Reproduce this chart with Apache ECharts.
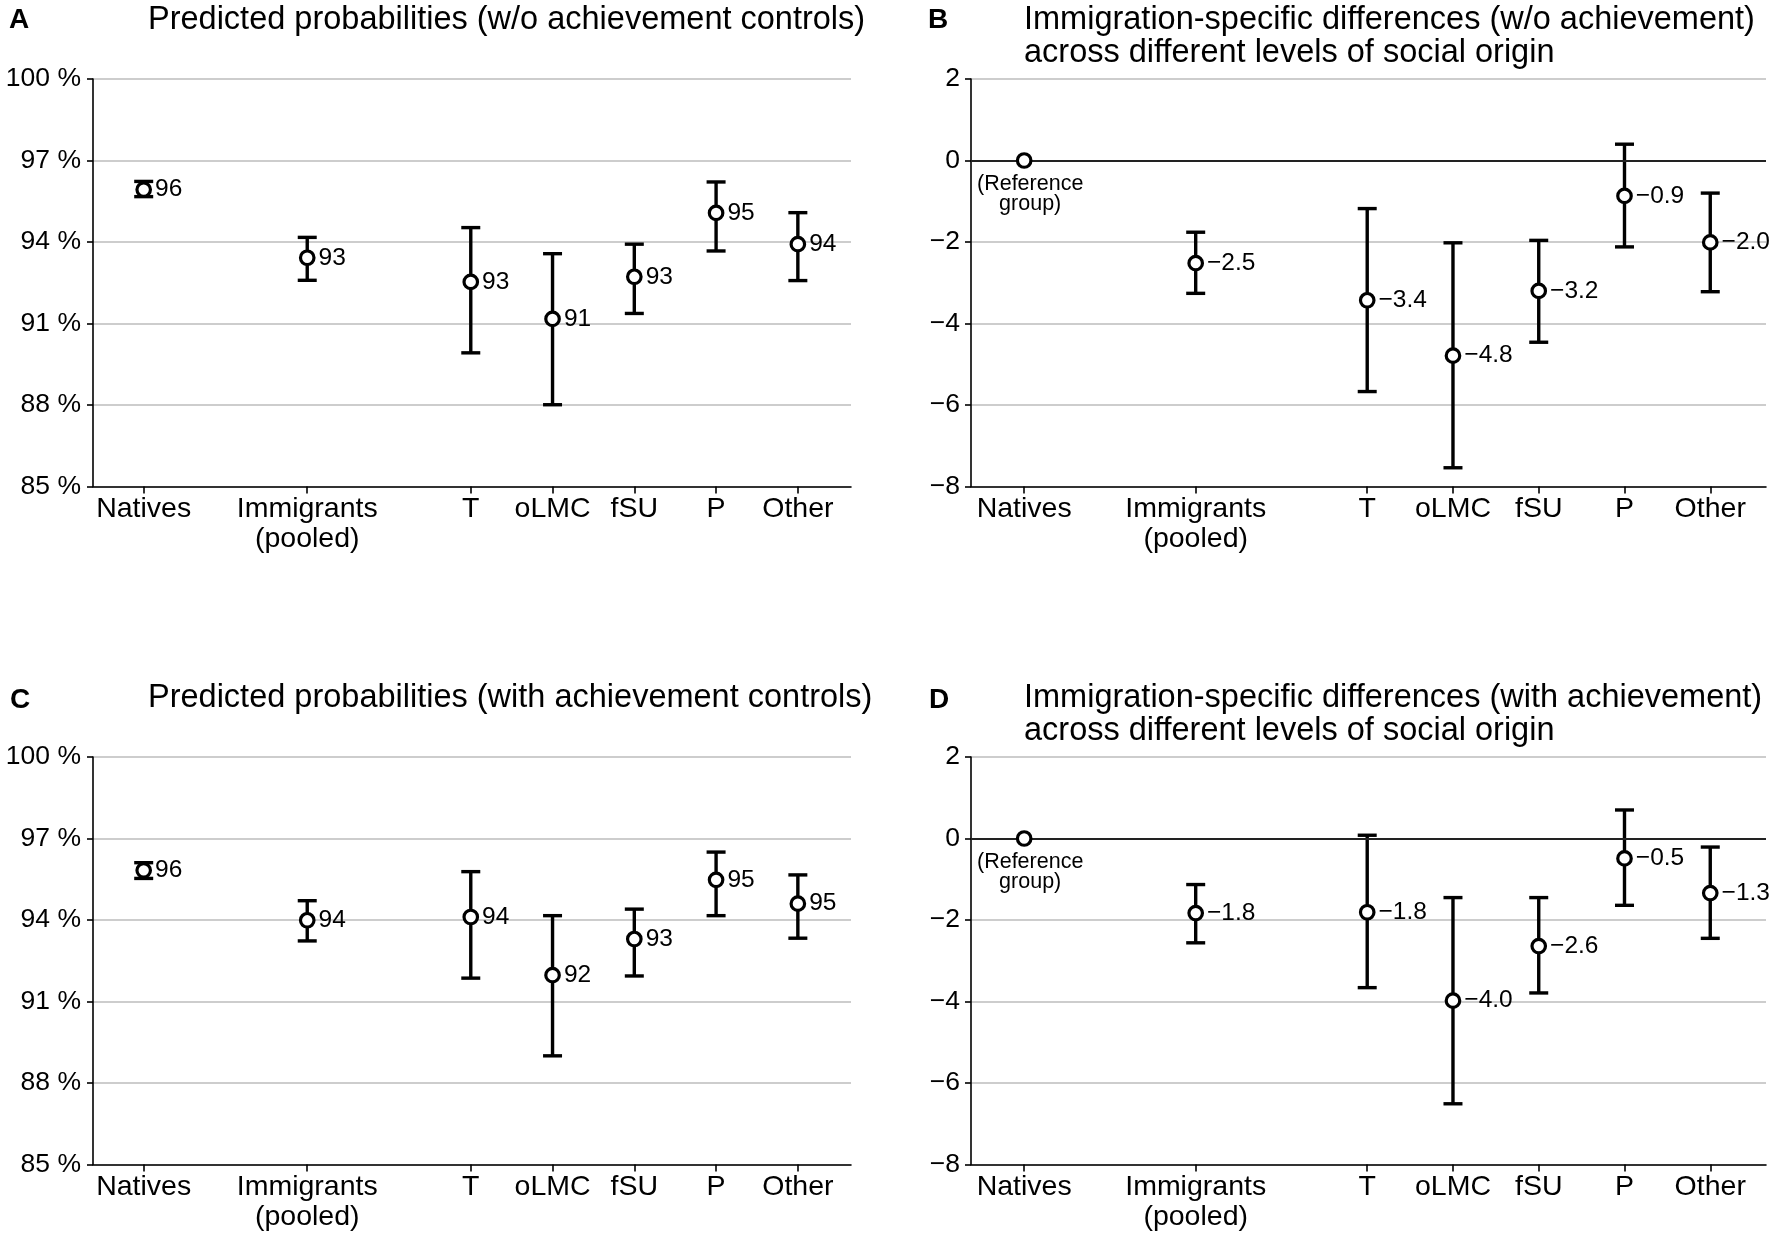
<!DOCTYPE html>
<html><head><meta charset="utf-8">
<script src="https://cdn.jsdelivr.net/npm/echarts@6/dist/echarts.min.js"></script>
<style>html,body{margin:0;padding:0;background:#fff}#c{width:1772px;height:1240px}</style>
</head><body><div id="c"></div>
<script>
// ---- data ----
const categories = ['Natives', 'Immigrants\n(pooled)', 'T', 'oLMC', 'fSU', 'P', 'Other'];
const catPositions = [0, 2, 4, 5, 6, 7, 8];

const aEst  = [95.93, 93.42, 92.53, 91.17, 92.72, 95.07, 93.92];
const aLow  = [95.67, 92.59, 89.92, 88.01, 91.37, 93.67, 92.58];
const aHigh = [96.23, 94.17, 94.53, 93.57, 93.92, 96.21, 95.08];

const bEst  = [0, -2.52, -3.43, -4.79, -3.20, -0.87, -2.01];
const bLow  = [null, -3.26, -5.67, -7.54, -4.46, -2.12, -3.22];
const bHigh = [null, -1.76, -1.18, -2.02, -1.96, 0.40, -0.80];

const cEst  = [95.83, 93.99, 94.11, 91.97, 93.30, 95.48, 94.60];
const cLow  = [95.53, 93.23, 91.86, 89.00, 91.94, 94.16, 93.33];
const cHigh = [96.11, 94.71, 95.78, 94.16, 94.40, 96.50, 95.66];

const dEst  = [0, -1.83, -1.81, -3.98, -2.64, -0.49, -1.34];
const dLow  = [null, -2.56, -3.66, -6.51, -3.79, -1.64, -2.45];
const dHigh = [null, -1.13, 0.08, -1.45, -1.45, 0.70, -0.21];

const titles = [
  ['Predicted probabilities (w/o achievement controls)'],
  ['Immigration-specific differences (w/o achievement)', 'across different levels of social origin'],
  ['Predicted probabilities (with achievement controls)'],
  ['Immigration-specific differences (with achievement)', 'across different levels of social origin']
];
const letters = ['A', 'B', 'C', 'D'];

// ---- chart ----
const FONT = 'Liberation Sans, Arial, Helvetica, sans-serif';
const chart = echarts.init(document.getElementById('c'), null, {renderer: 'canvas'});

const grids = [
  {left: 93, top: 79, width: 758, height: 407.5},
  {left: 971, top: 79, width: 795, height: 407.5},
  {left: 93, top: 757, width: 758, height: 407.5},
  {left: 971, top: 757, width: 795, height: 407.5}
];

const blackLine = {color: '#000', width: 1.6};
function xAxisFor(gi) {
  return {
    type: 'value', gridIndex: gi, min: -0.62, max: 8.65,
    splitLine: {show: false},
    axisLine: {show: true, onZero: false, lineStyle: blackLine},
    axisTick: {show: true, customValues: catPositions, length: 7, lineStyle: blackLine},
    axisLabel: {
      customValues: catPositions,
      formatter: v => { const i = catPositions.indexOf(v); return i >= 0 ? categories[i] : ''; },
      fontSize: 28.5, fontFamily: FONT, color: '#000', margin: 8, lineHeight: 30
    }
  };
}
function yAxisFor(gi, isProb) {
  return {
    type: 'value', gridIndex: gi,
    min: isProb ? 85 : -8, max: isProb ? 100 : 2, interval: isProb ? 3 : 2,
    axisLine: {show: true, onZero: false, lineStyle: blackLine},
    axisTick: {show: true, length: 6, lineStyle: blackLine},
    splitLine: {show: true, lineStyle: {color: '#bdbdbd', width: 1.6}},
    axisLabel: {
      formatter: isProb ? (v => v + ' %') : (v => (v < 0 ? '\u2212' : '') + Math.abs(v)),
      fontSize: 26.5, fontFamily: FONT, color: '#000', margin: isProb ? 12 : 11
    }
  };
}

function renderErr(params, api) {
  const x = api.value(0), lo = api.value(1), hi = api.value(2);
  const p1 = api.coord([x, hi]), p2 = api.coord([x, lo]);
  const w = 9.5;
  const style = {stroke: '#000', lineWidth: 3.4, fill: null};
  return {type: 'group', children: [
    {type: 'line', shape: {x1: p1[0], y1: p1[1], x2: p2[0], y2: p2[1]}, style: style},
    {type: 'line', shape: {x1: p1[0] - w, y1: p1[1], x2: p1[0] + w, y2: p1[1]}, style: style},
    {type: 'line', shape: {x1: p2[0] - w, y1: p2[1], x2: p2[0] + w, y2: p2[1]}, style: style}
  ]};
}

function panelSeries(gi, est, low, high, isProb) {
  const errData = [];
  catPositions.forEach((x, i) => { if (low[i] != null) errData.push([x, low[i], high[i]]); });
  const errSeries = {
    type: 'custom', xAxisIndex: gi, yAxisIndex: gi, z: 3,
    renderItem: renderErr, data: errData, encode: {x: 0, y: [1, 2]}, silent: true
  };
  if (!isProb) {
    errSeries.markLine = {
      silent: true, symbol: ['none', 'none'], label: {show: false},
      lineStyle: {color: '#222', width: 2.2, type: 'solid'},
      data: [{yAxis: 0}], animation: false
    };
  }
  const fmt = isProb ? (v => String(Math.round(v))) : (v => (v < 0 ? '\u2212' : '') + Math.abs(v).toFixed(1));
  const ptData = catPositions.map((x, i) => {
    const item = {value: [x, est[i]], label: {formatter: fmt(est[i])}};
    if (!isProb && low[i] == null) {
      item.label = {
        formatter: '(Reference\ngroup)', position: 'bottom', distance: 5,
        offset: [6, 0], fontSize: 21.5, lineHeight: 20, align: 'center'
      };
    }
    return item;
  });
  const ptSeries = {
    type: 'scatter', xAxisIndex: gi, yAxisIndex: gi, z: 5,
    symbol: 'circle', symbolSize: 13.5,
    itemStyle: {color: '#fff', borderColor: '#000', borderWidth: 3.2, opacity: 1},
    label: {show: true, position: 'right', distance: 3, fontSize: 24.5, fontFamily: FONT, color: '#000'},
    data: ptData, silent: true
  };
  return [errSeries, ptSeries];
}

const graphics = [];
const titlePos = [
  {x: 148, y: [20]}, {x: 1024, y: [20, 53.5]},
  {x: 148, y: [698]}, {x: 1024, y: [698, 731.5]}
];
const letterPos = [{x: 9, y: 20}, {x: 928, y: 20}, {x: 10, y: 700}, {x: 929, y: 700}];
titles.forEach((lines, p) => {
  lines.forEach((t, k) => {
    graphics.push({type: 'text', x: titlePos[p].x, y: titlePos[p].y[k], silent: true,
      style: {text: t, font: '32.5px ' + FONT, fill: '#000', textVerticalAlign: 'middle', verticalAlign: 'middle', textAlign: 'left', align: 'left'}});
  });
  graphics.push({type: 'text', x: letterPos[p].x, y: letterPos[p].y, silent: true,
    style: {text: letters[p], font: 'bold 28px ' + FONT, fill: '#000', textVerticalAlign: 'middle', verticalAlign: 'middle'}});
});

const option = {
  animation: false,
  backgroundColor: '#fff',
  textStyle: {fontFamily: FONT},
  grid: grids,
  xAxis: [0, 1, 2, 3].map(xAxisFor),
  yAxis: [yAxisFor(0, true), yAxisFor(1, false), yAxisFor(2, true), yAxisFor(3, false)],
  graphic: graphics,
  series: [].concat(
    panelSeries(0, aEst, aLow, aHigh, true),
    panelSeries(1, bEst, bLow, bHigh, false),
    panelSeries(2, cEst, cLow, cHigh, true),
    panelSeries(3, dEst, dLow, dHigh, false)
  )
};
chart.setOption(option);
</script>
</body></html>
